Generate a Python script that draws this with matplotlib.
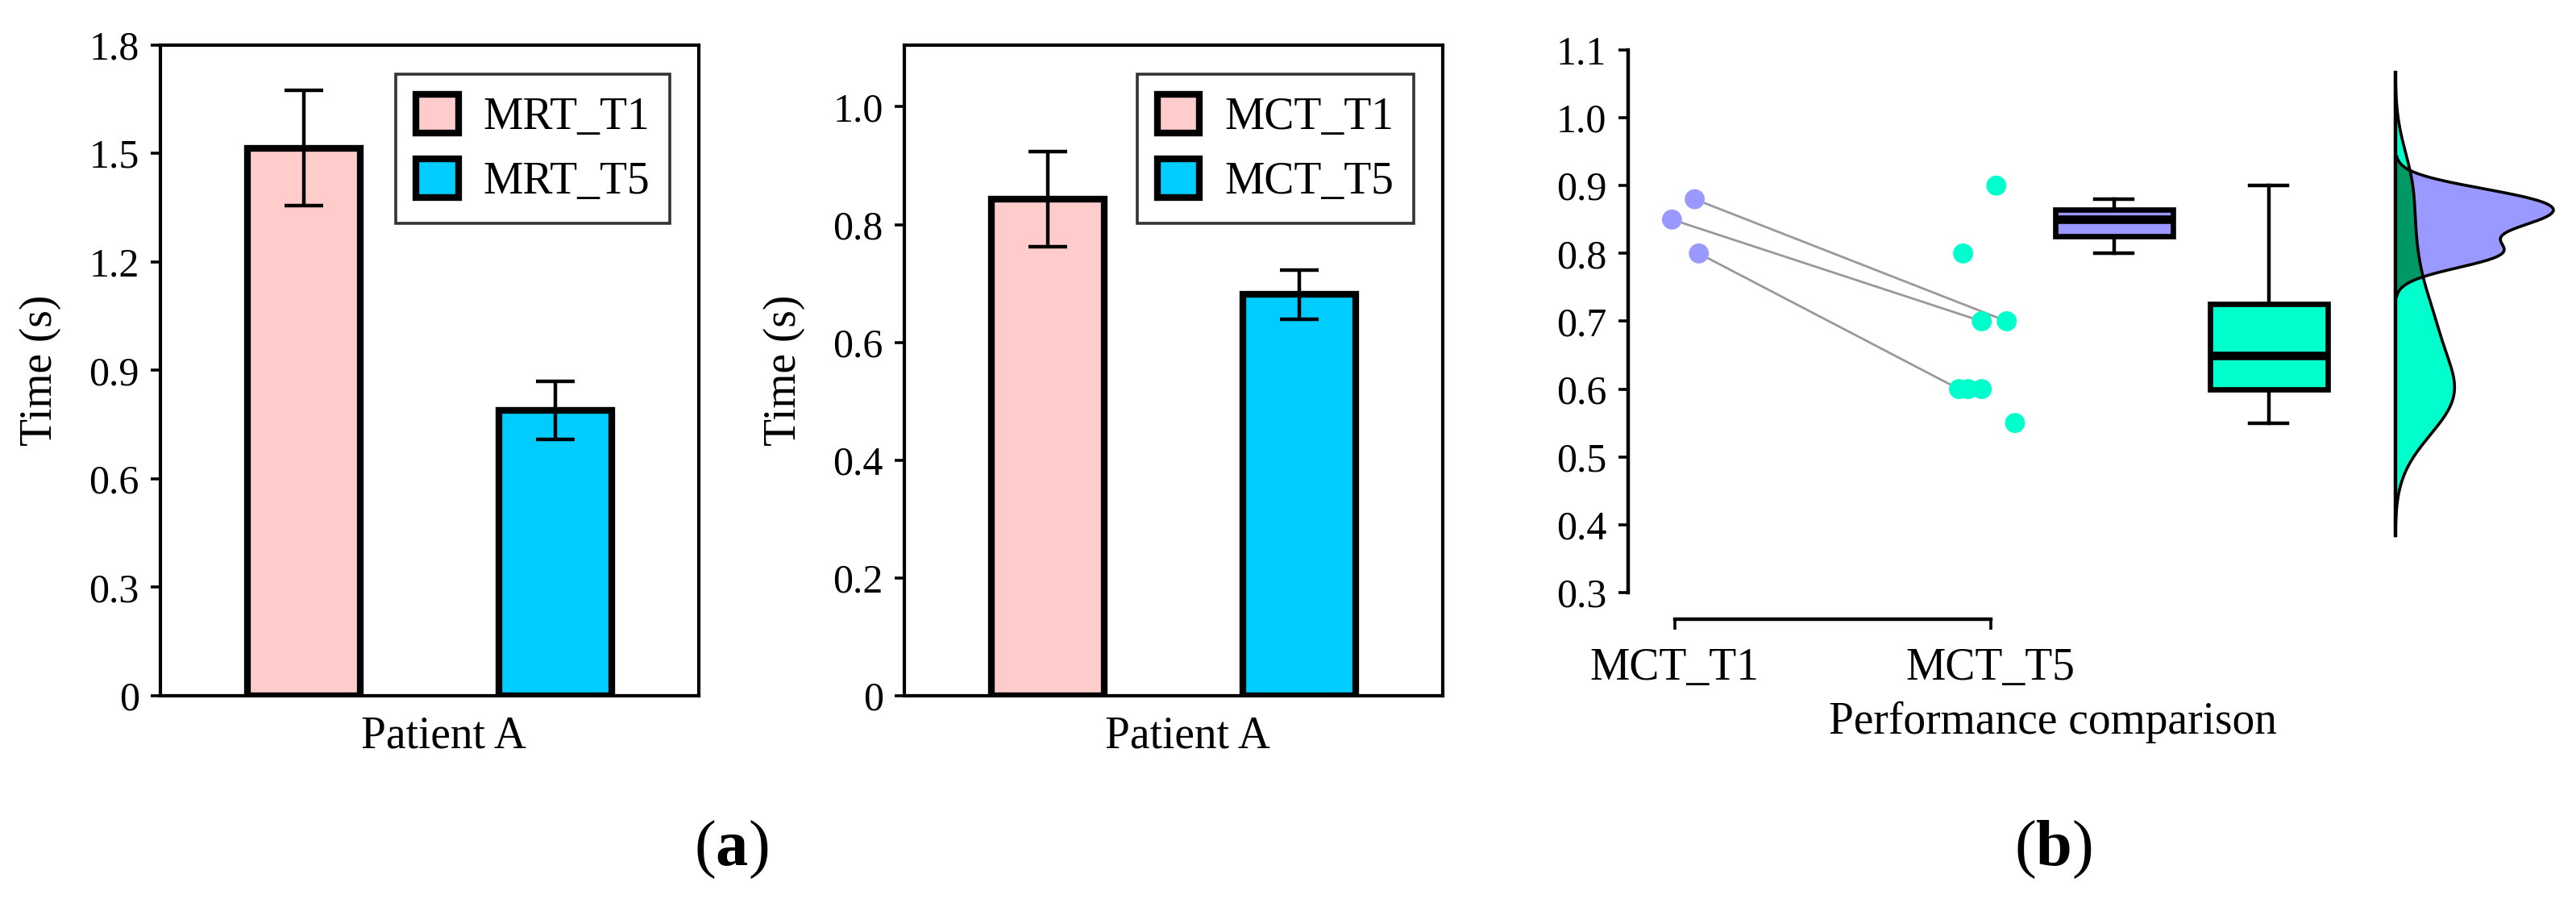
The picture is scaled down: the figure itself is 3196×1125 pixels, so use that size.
import numpy as np
import matplotlib as mpl
mpl.use("Agg")
import matplotlib.pyplot as plt
from matplotlib.patches import Patch

plt.rcParams['font.family'] = ['Liberation Serif', 'DejaVu Serif']
plt.rcParams['mathtext.fontset'] = 'custom'
plt.rcParams['mathtext.rm'] = 'Liberation Serif'
plt.rcParams['mathtext.bf'] = 'Liberation Serif:bold'

# ---- data (a) ----
groups_mrt = ['MRT_T1', 'MRT_T5']
mrt_mean = [1.515, 0.79]
mrt_err = [0.16, 0.08]

groups_mct = ['MCT_T1', 'MCT_T5']
mct_mean = [0.843, 0.681]
mct_err = [0.081, 0.042]

bar_colors = ['#ffcccc', '#00ccff']

# ---- data (b) ----
t1_vals = [0.85, 0.88, 0.80]
t1_jitter = [-0.008, 0.064, 0.077]
t5_vals = [0.90, 0.80, 0.70, 0.70, 0.60, 0.60, 0.60, 0.55]
t5_jitter = [0.018, -0.087, -0.028, 0.051, -0.10, -0.071, -0.028, 0.077]
pair_idx = [2, 3, 4]   # which T5 point each T1 point is linked to
cat_labels = ['MCT_T1', 'MCT_T5']
c_t1 = '#9999ff'
c_t5 = '#00ffcc'
c_overlap = '#009966'

fig = plt.figure(figsize=(15.98, 5.625), dpi=200)


def bar_panel(ax, names, means, errs, ymax, yticks, yticklabels):
    x = np.arange(len(names))
    ax.bar(x, means, width=0.45, color=bar_colors, edgecolor='black',
           linewidth=3, label=names, zorder=2)
    ax.errorbar(x, means, yerr=errs, fmt='none', ecolor='black',
                elinewidth=1.6, capsize=8.5, capthick=1.6, zorder=3)
    ax.set_xlim(-0.57, 1.57)
    ax.set_ylim(0, ymax)
    ax.set_yticks(yticks)
    ax.set_yticklabels(yticklabels)
    ax.set_xticks([])
    ax.tick_params(axis='y', direction='out', length=4.5, width=1.3,
                   labelsize=18, pad=5)
    for s in ax.spines.values():
        s.set_linewidth(1.5)
    ax.set_ylabel('Time (s)', fontsize=20)
    ax.yaxis.set_label_coords(-0.185, 0.5)
    ax.set_xlabel('Patient A', fontsize=20)
    ax.xaxis.set_label_coords(0.526, -0.03)
    handles = [Patch(facecolor=c, edgecolor='black', linewidth=3) for c in bar_colors]
    leg = ax.legend(handles, names, loc='upper right',
                    bbox_to_anchor=(0.946, 0.955), fontsize=20,
                    frameon=True, fancybox=False, edgecolor='black',
                    handlelength=0.95, handleheight=0.95, handletextpad=0.55,
                    labelspacing=0.45, borderpad=0.45, borderaxespad=0)
    leg.get_frame().set_linewidth(1.3)


ax1 = fig.add_axes([0.0623, 0.2329, 0.209, 0.7176])
bar_panel(ax1, groups_mrt, mrt_mean, mrt_err, 1.8,
          [0, 0.3, 0.6, 0.9, 1.2, 1.5, 1.8],
          ['0', '0.3', '0.6', '0.9', '1.2', '1.5', '1.8'])

ax2 = fig.add_axes([0.3511, 0.2329, 0.209, 0.7176])
bar_panel(ax2, groups_mct, mct_mean, mct_err, 1.105,
          [0, 0.2, 0.4, 0.6, 0.8, 1.0],
          ['0', '0.2', '0.4', '0.6', '0.8', '1.0'])

# ---- panel (b): raincloud ----
ax3 = fig.add_axes([0.632, 0.3467, 0.363, 0.5982])
t1 = np.array(t1_vals)
t5 = np.array(t5_vals)
x1 = 0 + np.array(t1_jitter)
x5 = 1 + np.array(t5_jitter)

for i, j in enumerate(pair_idx):
    ax3.plot([x1[i], x5[j]], [t1[i], t5[j]], color='#999999', lw=1.0, zorder=1)
ax3.scatter(x1, t1, s=80, color=c_t1, edgecolors='none', zorder=3)
ax3.scatter(x5, t5, s=80, color=c_t5, edgecolors='none', zorder=3)

bp = ax3.boxplot([t1, t5], positions=[1.39, 1.88], widths=0.373,
                 patch_artist=True, whis=1.5, showfliers=False,
                 capwidths=0.12, manage_ticks=False)
for patch, c in zip(bp['boxes'], [c_t1, c_t5]):
    patch.set_facecolor(c)
    patch.set_edgecolor('black')
    patch.set_linewidth(2.4)
for m in bp['medians']:
    m.set_color('black')
    m.set_linewidth(3.8)
for w in bp['whiskers'] + bp['caps']:
    w.set_color('black')
    w.set_linewidth(1.6)


def bw_nrd0(vals):
    q1, q3 = np.percentile(vals, [25, 75])
    return 0.9 * min(vals.std(ddof=1), (q3 - q1) / 1.34) * len(vals) ** (-0.2)


def kde(vals, grid, h):
    z = (grid[:, None] - vals[None, :]) / h
    return np.exp(-0.5 * z ** 2).sum(axis=1) / (len(vals) * h * np.sqrt(2 * np.pi))


base = 2.28
scale = 0.0513
cut = 3
h1 = bw_nrd0(t1)
h5 = bw_nrd0(t5)
grid = np.linspace(t5.min() - cut * h5, t5.max() + cut * h5, 800)
d5 = kde(t5, grid, h5)
m1 = (grid >= t1.min() - cut * h1) & (grid <= t1.max() + cut * h1)
d1 = np.where(m1, kde(t1, grid, h1), 0)

ax3.fill_betweenx(grid, base, base + d5 * scale, color=c_t5, lw=0, zorder=2)
ax3.fill_betweenx(grid, base, base + d1 * scale, where=m1, color=c_t1, lw=0, zorder=2)
ax3.fill_betweenx(grid, base, base + np.minimum(d1, d5) * scale, where=m1,
                  color=c_overlap, lw=0, zorder=2)
g1 = grid[m1]
ax3.plot(np.r_[base, base + d1[m1] * scale, base], np.r_[g1[0], g1, g1[-1]],
         color='black', lw=1.3, zorder=3)
ax3.plot(base + d5 * scale, grid, color='black', lw=1.3, zorder=3)
ax3.plot([base, base], [grid[0], grid[-1]], color='black', lw=1.6, zorder=4)

ax3.set_xlim(-0.147, 2.811)
ax3.set_ylim(0.3, 1.1)
ax3.set_yticks(np.round(np.arange(0.3, 1.11, 0.1), 1))
ax3.set_yticklabels(['%.1f' % v for v in np.arange(0.3, 1.11, 0.1)])
ax3.set_xticks([0, 1])
ax3.set_xticklabels(cat_labels)
ax3.spines['top'].set_visible(False)
ax3.spines['right'].set_visible(False)
ax3.spines['bottom'].set_position(('outward', 12))
ax3.spines['bottom'].set_bounds(0, 1)
for s in ['left', 'bottom']:
    ax3.spines[s].set_linewidth(1.6)
ax3.tick_params(axis='y', direction='out', length=4.5, width=1.3,
                labelsize=18, pad=5)
ax3.tick_params(axis='x', direction='out', length=4.5, width=1.3,
                labelsize=20, pad=8)
ax3.set_xlabel('Performance comparison', fontsize=20)
ax3.xaxis.set_label_coords(0.454, -0.2)

fig.text(0.2838, 0.063, r'($\mathbf{a}$)', fontsize=29, ha='center', va='center')
fig.text(0.797, 0.063, r'($\mathbf{b}$)', fontsize=29, ha='center', va='center')

fig.savefig('out.png', dpi=200)
